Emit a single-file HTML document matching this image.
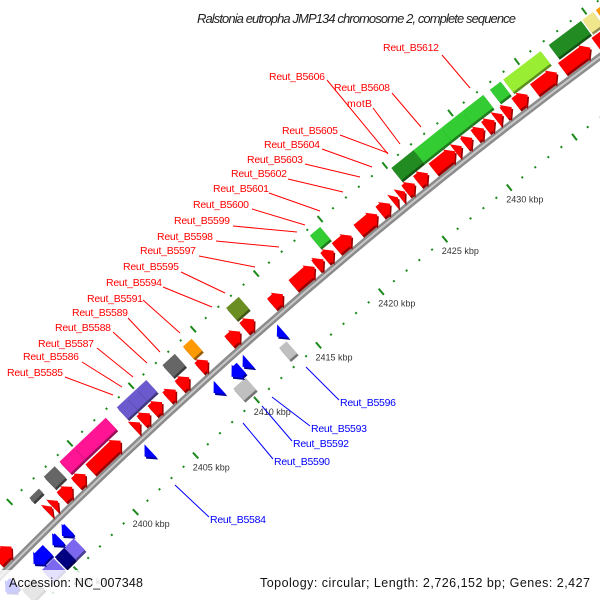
<!DOCTYPE html>
<html><head><meta charset="utf-8"><style>
html,body{margin:0;padding:0;background:#fff;width:600px;height:600px;overflow:hidden;}
svg{display:block;overflow:hidden;font-family:"Liberation Sans","DejaVu Sans",sans-serif;}
</style></head><body>
<svg id="map" width="600" height="600" viewBox="0 0 600 600" xmlns="http://www.w3.org/2000/svg">
<rect x="0" y="0" width="600" height="600" fill="#fff"/>
<g id="ticks"></g>
<g id="backbone"></g>
<g id="genes"></g>
<g id="tlabels" font-size="9" fill="#333"></g>
<g font-size="10.5" fill="#ff0000" stroke="none">
<g stroke="#ff0000" stroke-width="1">
<line x1="442" y1="55" x2="470" y2="88"/><line x1="327" y1="80" x2="388" y2="154"/><line x1="392" y1="93" x2="421" y2="127"/><line x1="373" y1="108" x2="400" y2="144"/>
<line x1="340" y1="135" x2="388" y2="153"/><line x1="322" y1="149" x2="372" y2="167"/><line x1="305" y1="164" x2="360" y2="177"/><line x1="288" y1="179" x2="343" y2="192"/>
<line x1="269" y1="193" x2="320" y2="211"/><line x1="252" y1="209" x2="305" y2="225"/><line x1="233" y1="226" x2="297" y2="232"/><line x1="216" y1="241" x2="279" y2="247"/>
<line x1="199" y1="256" x2="255" y2="267"/><line x1="181" y1="272" x2="225" y2="293"/><line x1="163" y1="287" x2="212" y2="307"/><line x1="143" y1="300" x2="180" y2="333"/>
<line x1="128" y1="318" x2="160" y2="352"/><line x1="113" y1="332" x2="147" y2="363"/><line x1="97" y1="348" x2="133" y2="377"/><line x1="82" y1="362" x2="122" y2="387"/><line x1="65" y1="377" x2="113" y2="395"/>
</g>
<text x="383" y="51" textLength="56">Reut_B5612</text>
<text x="269" y="80" textLength="56">Reut_B5606</text>
<text x="334" y="91" textLength="56">Reut_B5608</text>
<text x="347" y="107" textLength="25">motB</text>
<text x="282" y="134" textLength="56">Reut_B5605</text>
<text x="264" y="148" textLength="56">Reut_B5604</text>
<text x="247" y="163" textLength="56">Reut_B5603</text>
<text x="231" y="177" textLength="56">Reut_B5602</text>
<text x="213" y="192" textLength="56">Reut_B5601</text>
<text x="193" y="208" textLength="56">Reut_B5600</text>
<text x="174" y="224" textLength="56">Reut_B5599</text>
<text x="157" y="240" textLength="56">Reut_B5598</text>
<text x="140" y="254" textLength="56">Reut_B5597</text>
<text x="123" y="270" textLength="56">Reut_B5595</text>
<text x="106" y="286" textLength="56">Reut_B5594</text>
<text x="87" y="302" textLength="56">Reut_B5591</text>
<text x="72" y="316" textLength="56">Reut_B5589</text>
<text x="55" y="331" textLength="56">Reut_B5588</text>
<text x="38" y="347" textLength="56">Reut_B5587</text>
<text x="23" y="360" textLength="56">Reut_B5586</text>
<text x="7" y="376" textLength="56">Reut_B5585</text>
</g>
<g font-size="10.5" fill="#0000ff">
<g stroke="#0000ff" stroke-width="1">
<line x1="306" y1="367" x2="339" y2="400"/><line x1="272" y1="397" x2="310" y2="426"/><line x1="262" y1="406" x2="292" y2="441"/><line x1="243" y1="423" x2="273" y2="459"/><line x1="175" y1="485" x2="209" y2="517"/>
</g>
<text x="340" y="406" textLength="56">Reut_B5596</text>
<text x="311" y="432" textLength="56">Reut_B5593</text>
<text x="293" y="447" textLength="56">Reut_B5592</text>
<text x="274" y="465" textLength="56">Reut_B5590</text>
<text x="210" y="523" textLength="56">Reut_B5584</text>
</g>
<text x="197" y="23" font-size="13" font-style="italic" fill="#222" textLength="319">Ralstonia eutropha JMP134 chromosome 2, complete sequence</text>
<rect x="0" y="570" width="600" height="30" fill="#fff" opacity="0.8"/>
<text x="9" y="587" font-size="12.5" fill="#111" textLength="134">Accession: NC_007348</text>
<text x="260" y="587" font-size="12.5" fill="#111" textLength="330">Topology: circular; Length: 2,726,152 bp; Genes: 2,427</text>
</svg>
<script>
const CX = 3706, CY = 4247;
const R_BACK = 5216, R_FWD = 5229, R_FCOG = 5248, R_REV = 5201, R_RCOG = 5183, R_TOUT = 5262, R_TIN = 5167;
const A0 = -133.71, DEG_PER_KBP = 0.183;

const tickKbp = [2385,2386,2387,2388,2389,2390,2391,2392,2393,2394,2395,2396,2397,2398,2399,2400,2401,2402,2403,2404,2405,2406,2407,2408,2409,2410,2411,2412,2413,2414,2415,2416,2417,2418,2419,2420,2421,2422,2423,2424,2425,2426,2427,2428,2429,2430,2431,2432,2433,2434,2435,2436,2437,2438,2439,2440,2441,2442,2443,2444,2445,2446,2447,2448,2449,2450];
const majorKbp = [2385,2390,2395,2400,2405,2410,2415,2420,2425,2430,2435,2440,2445,2450];
const majorLabels = ["2385 kbp","2390 kbp","2395 kbp","2400 kbp","2405 kbp","2410 kbp","2415 kbp","2420 kbp","2425 kbp","2430 kbp","2435 kbp","2440 kbp","2445 kbp","2450 kbp"];

const fwdStart = [2392.0,2396.2,2396.65,2397.4,2398.6,2399.8,2403.4,2404.0,2404.9,2406.1,2407.1,2408.7,2411.1,2412.3,2414.5,2416.2,2418.0,2418.7,2419.6,2421.3,2423.0,2424.0,2424.5,2425.0,2425.9,2427.1,2428.8,2429.5,2430.3,2431.1,2431.9,2432.5,2433.4,2434.8,2436.9,2439.4];
const fwdEnd   = [2393.2,2396.6,2397.1,2398.3,2399.4,2402.3,2403.9,2404.7,2405.7,2406.8,2407.9,2409.4,2412.0,2413.1,2415.4,2417.9,2418.6,2419.4,2420.8,2422.8,2423.8,2424.4,2424.95,2425.7,2426.7,2428.8,2429.3,2430.1,2431.0,2431.8,2432.4,2433.1,2434.3,2436.5,2439.0,2441.9];

const revStart = [2391.0,2393.4,2395.0,2395.8,2402.7,2408.35,2409.8,2410.7,2413.45];
const revEnd   = [2391.8,2394.6,2395.6,2396.4,2403.2,2408.85,2410.6,2411.2,2413.95];

const fcogStart = [2396.0,2397.5,2398.8,2400.0,2403.5,2404.3,2405.1,2407.2,2408.85,2412.3,2418.9,2425.2,2426.9,2429.0,2430.6,2432.7,2433.7,2437.1,2439.6,2440.6];
const fcogEnd   = [2396.8,2398.4,2400.0,2402.6,2404.3,2405.1,2405.9,2408.2,2409.55,2413.3,2419.7,2426.9,2429.0,2430.6,2432.2,2433.5,2436.5,2439.5,2440.4,2442.4];
const fcogColor = ["#666666","#666666","#ff1493","#ff1493","#6a5acd","#6a5acd","#6a5acd","#666666","#ff9900","#6b8e23","#33cc33","#228b22","#33cc33","#33cc33","#33cc33","#33cc33","#99ee33","#228b22","#f0e68c","#ff9900"];

const rcogStart = [2391.8,2393.5,2394.6,2395.4,2409.4,2413.1];
const rcogEnd   = [2392.8,2394.5,2395.4,2396.2,2410.4,2413.7];
const rcogColor = ["#808080","#7b68ee","#000080","#7b68ee","#c0c0c0","#c0c0c0"];

const NS = "http://www.w3.org/2000/svg";
function P(k, r){ const a = (A0 + DEG_PER_KBP*(k-2400))*Math.PI/180; return [CX + r*Math.cos(a), CY + r*Math.sin(a)]; }
function pts(arr){ return arr.map(p=>p[0].toFixed(1)+","+p[1].toFixed(1)).join(" "); }
function shade(hex){ const n=parseInt(hex.slice(1),16); const f=0.6; const r=Math.round((n>>16&255)*f),g=Math.round((n>>8&255)*f),b=Math.round((n&255)*f); return "rgb("+r+","+g+","+b+")"; }
function poly(parent, p, fill, name){
  const sh = document.createElementNS(NS,"polygon");
  sh.setAttribute("points", pts(p.map(q=>[q[0]+1.5,q[1]+2])));
  sh.setAttribute("fill", shade(fill));
  
  
  parent.appendChild(sh);
  const e = document.createElementNS(NS,"polygon");
  e.setAttribute("points", pts(p));
  e.setAttribute("fill", fill);
  
  
  parent.appendChild(e);
}
function arrow(k0,k1,rc,dir){
  const hw=7, hh=9, hl=0.5;
  if (k1-k0 <= hl){
    return dir>0 ? [P(k0,rc-hh),P(k1,rc),P(k0,rc+hh)] : [P(k1,rc-hh),P(k0,rc),P(k1,rc+hh)];
  }
  if (dir>0){ const kh=k1-hl; return [P(k0,rc-hw),P(kh,rc-hw),P(kh,rc-hh),P(k1,rc),P(kh,rc+hh),P(kh,rc+hw),P(k0,rc+hw)]; }
  const kh=k0+hl; return [P(k1,rc-hw),P(kh,rc-hw),P(kh,rc-hh),P(k0,rc),P(kh,rc+hh),P(kh,rc+hw),P(k1,rc+hw)];
}
function box(k0,k1,rc,hw){ return [P(k0,rc-hw),P(k1,rc-hw),P(k1,rc+hw),P(k0,rc+hw)]; }

const tg = document.getElementById("ticks");
[R_TOUT, R_TIN].forEach((R)=>{
  tickKbp.forEach(k=>{
    const major = majorKbp.indexOf(k)>=0;
    const len = major?4:1;
    const a=P(k,R-len), b=P(k,R+len);
    const l=document.createElementNS(NS,"line");
    l.setAttribute("x1",a[0]);l.setAttribute("y1",a[1]);l.setAttribute("x2",b[0]);l.setAttribute("y2",b[1]);
    l.setAttribute("stroke","#1a8a1a");l.setAttribute("stroke-width","2");
    
    
    tg.appendChild(l);
  });
});
const tl = document.getElementById("tlabels");
majorKbp.forEach((k,i)=>{
  const p=P(k,R_TIN);
  if (p[0]-3+42 > 600 || p[1]+15 > 600 || p[0] < 0) return;
  const t=document.createElementNS(NS,"text");
  t.setAttribute("x",(p[0]-3).toFixed(1)); t.setAttribute("y",(p[1]+15).toFixed(1));
  t.textContent = majorLabels[i];
  
  
  tl.appendChild(t);
});

const bb = document.getElementById("backbone");
const b0=P(2380,R_BACK), b1=P(2450,R_BACK);
const d="M"+b0[0]+","+b0[1]+" A"+R_BACK+","+R_BACK+" 0 0 1 "+b1[0]+","+b1[1];
[["#8c8c8c",7],["#c8c8c8",2]].forEach(s=>{
  const pa=document.createElementNS(NS,"path");
  pa.setAttribute("d",d);pa.setAttribute("fill","none");pa.setAttribute("stroke",s[0]);pa.setAttribute("stroke-width",s[1]);
  
  
  bb.appendChild(pa);
});

const gg = document.getElementById("genes");
fcogStart.forEach((k,i)=>{ poly(gg, box(k,fcogEnd[i],R_FCOG, i===0?3:8), fcogColor[i], 'forward-cog-box'); });
rcogStart.forEach((k,i)=>{ poly(gg, box(k,rcogEnd[i],R_RCOG,8), rcogColor[i], 'reverse-cog-box'); });
fwdStart.forEach((k,i)=>{ poly(gg, arrow(k,fwdEnd[i],R_FWD,1), "#ff0000", 'forward-gene'); });
revStart.forEach((k,i)=>{ poly(gg, arrow(k,revEnd[i],R_REV,-1), "#0000ff", 'reverse-gene'); });
</script>
</body></html>
